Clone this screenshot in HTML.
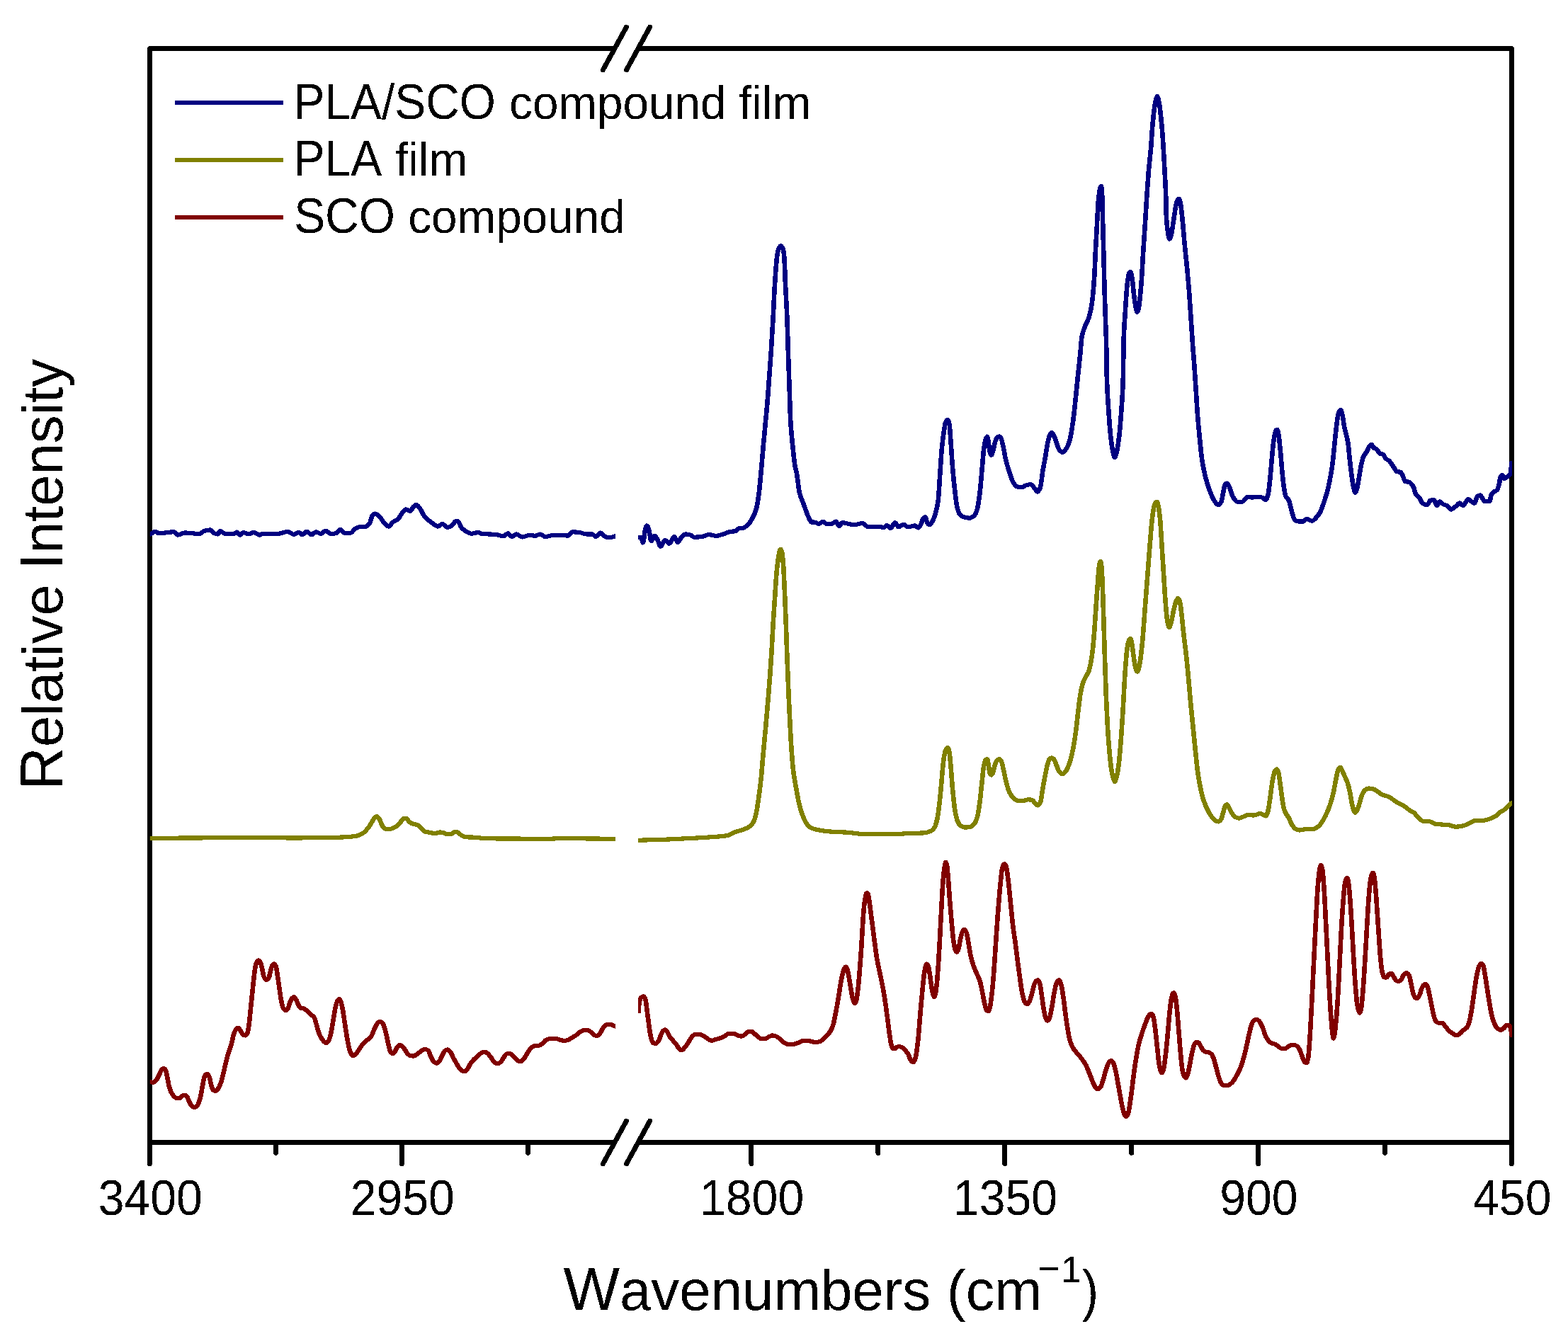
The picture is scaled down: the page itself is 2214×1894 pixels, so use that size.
<!DOCTYPE html>
<html lang="en"><head><meta charset="utf-8"><title>FTIR spectra</title>
<style>html,body{margin:0;padding:0;background:#fff;}body{width:2214px;height:1894px;overflow:hidden;}svg{display:block;}text{font-family:"Liberation Sans",Arial,Helvetica,sans-serif;fill:#000;}</style>
</head><body>
<svg width="2214" height="1894" viewBox="0 0 2214 1894" shape-rendering="crispEdges">
<rect x="0" y="0" width="2214" height="1894" fill="#fff"/>
<path d="M867.9 68.5 L211.5 68.5 L211.5 1613.5 L867.9 1613.5" stroke="#000" stroke-width="6.8" fill="none" stroke-linejoin="round"/>
<path d="M901.1 68.5 L2134.5 68.5 L2134.5 1613.5 L901.1 1613.5" stroke="#000" stroke-width="6.8" fill="none" stroke-linejoin="round"/>
<path d="M851.4 98.7 L884.4 38.3" stroke="#000" stroke-width="7" stroke-linecap="round" fill="none"/>
<path d="M884.6 98.7 L917.6 38.3" stroke="#000" stroke-width="7" stroke-linecap="round" fill="none"/>
<path d="M851.4 1643.7 L884.4 1583.3" stroke="#000" stroke-width="7" stroke-linecap="round" fill="none"/>
<path d="M884.6 1643.7 L917.6 1583.3" stroke="#000" stroke-width="7" stroke-linecap="round" fill="none"/>
<path d="M211.5 1613.5 L211.5 1643.7" stroke="#000" stroke-width="6.8" stroke-linecap="round" fill="none"/>
<path d="M567.5 1613.5 L567.5 1643.7" stroke="#000" stroke-width="6.8" stroke-linecap="round" fill="none"/>
<path d="M1060.8 1613.5 L1060.8 1643.7" stroke="#000" stroke-width="6.8" stroke-linecap="round" fill="none"/>
<path d="M1418.7 1613.5 L1418.7 1643.7" stroke="#000" stroke-width="6.8" stroke-linecap="round" fill="none"/>
<path d="M1776.6 1613.5 L1776.6 1643.7" stroke="#000" stroke-width="6.8" stroke-linecap="round" fill="none"/>
<path d="M2134.5 1613.5 L2134.5 1643.7" stroke="#000" stroke-width="6.8" stroke-linecap="round" fill="none"/>
<path d="M389.5 1613.5 L389.5 1628.5" stroke="#000" stroke-width="6.8" stroke-linecap="round" fill="none"/>
<path d="M745.6 1613.5 L745.6 1628.5" stroke="#000" stroke-width="6.8" stroke-linecap="round" fill="none"/>
<path d="M1239.8 1613.5 L1239.8 1628.5" stroke="#000" stroke-width="6.8" stroke-linecap="round" fill="none"/>
<path d="M1597.7 1613.5 L1597.7 1628.5" stroke="#000" stroke-width="6.8" stroke-linecap="round" fill="none"/>
<path d="M1955.5 1613.5 L1955.5 1628.5" stroke="#000" stroke-width="6.8" stroke-linecap="round" fill="none"/>
<defs><clipPath id="clipL"><rect x="211.8" y="0" width="657.2" height="1894"/></clipPath><clipPath id="clipR"><rect x="901" y="0" width="1234" height="1894"/></clipPath></defs>
<g clip-path="url(#clipL)"><path d="M199.12 1527.8C200.51 1528.12 201.9 1528.76 203.29 1528.76C204.8 1528.76 206.32 1526.77 207.83 1524.9C209.04 1523.41 210.25 1519.72 211.45 1517.18C212.54 1514.9 213.63 1511.43 214.72 1510.42C215.44 1509.76 216.17 1509.07 216.89 1509.07C217.8 1509.07 218.71 1510.07 219.62 1511.39C220.4 1512.53 221.19 1518.17 221.97 1522.01C222.7 1525.55 223.42 1530.67 224.15 1533.59C225.06 1537.24 225.96 1540.32 226.87 1542.28C228.08 1544.89 229.29 1546.78 230.5 1548.07C231.71 1549.36 232.91 1550.74 234.12 1550.97C235.33 1551.19 236.54 1551.35 237.75 1551.35C238.96 1551.35 240.17 1548.71 241.38 1548.07C242.59 1547.43 243.8 1546.72 245 1546.72C246.03 1546.72 247.06 1547.87 248.09 1549.03C249.18 1550.27 250.26 1554.55 251.35 1556.76C252.44 1558.96 253.53 1561.79 254.62 1562.55C255.82 1563.39 257.03 1564.09 258.24 1564.09C259.57 1564.09 260.9 1562.44 262.23 1560.62C263.32 1559.13 264.41 1555.15 265.5 1550.97C266.34 1547.71 267.19 1542.13 268.04 1537.45C268.82 1533.11 269.61 1526.76 270.39 1523.94C271.18 1521.11 271.96 1518.45 272.75 1517.76C273.48 1517.12 274.2 1516.6 274.93 1516.6C275.83 1516.6 276.74 1518.85 277.65 1521.04C278.43 1522.95 279.22 1528.8 280 1531.66C280.85 1534.74 281.7 1538.67 282.54 1539.38C283.63 1540.3 284.72 1540.93 285.81 1540.93C287.02 1540.93 288.23 1539.1 289.43 1537.45C290.76 1535.64 292.09 1531.9 293.42 1527.8C294.51 1524.45 295.6 1519.09 296.69 1514.29C297.78 1509.48 298.87 1503.39 299.95 1498.84C300.98 1494.54 302.01 1490.81 303.04 1487.26C304.25 1483.08 305.45 1480.16 306.66 1475.68C307.69 1471.86 308.72 1465.56 309.75 1462.16C310.71 1458.97 311.68 1455.79 312.65 1454.44C313.68 1453.01 314.7 1451.54 315.73 1451.54C316.76 1451.54 317.79 1453.9 318.81 1455.41C319.9 1457 320.99 1460.47 322.08 1461.2C323.17 1461.93 324.25 1462.55 325.34 1462.55C326.37 1462.55 327.4 1460.71 328.43 1458.3C329.21 1456.46 330 1449.3 330.78 1442.86C331.39 1437.9 331.99 1429.87 332.6 1423.55C333.22 1417 333.85 1410.66 334.48 1404.25C335.11 1397.79 335.74 1390.93 336.37 1384.94C337.03 1378.74 337.68 1371.07 338.34 1367.57C339.1 1363.46 339.87 1360.18 340.64 1358.88C341.4 1357.58 342.17 1356.37 342.93 1356.37C343.7 1356.37 344.46 1357.58 345.23 1358.88C346 1360.18 346.76 1364.36 347.53 1367.57C348.35 1371.01 349.18 1377.26 350 1379.15C351.09 1381.66 352.18 1383.98 353.27 1383.98C354.36 1383.98 355.45 1382.73 356.53 1381.08C357.26 1379.98 357.99 1375.18 358.71 1372.39C359.5 1369.38 360.28 1364.93 361.07 1363.71C361.85 1362.49 362.64 1361.39 363.43 1361.39C364.27 1361.39 365.12 1362.85 365.96 1364.67C366.75 1366.36 367.54 1373.89 368.32 1379.15C369.11 1384.42 369.89 1390.84 370.68 1396.53C371.41 1401.77 372.13 1408.07 372.86 1411.97C373.76 1416.84 374.67 1422.09 375.58 1423.55C376.79 1425.5 377.99 1427.03 379.2 1427.03C380.23 1427.03 381.26 1425.31 382.29 1423.55C383.07 1422.2 383.86 1417.87 384.64 1415.83C385.55 1413.48 386.46 1411 387.36 1410.04C388.27 1409.07 389.18 1408.11 390.08 1408.11C390.99 1408.11 391.9 1410.33 392.8 1411.97C393.71 1413.61 394.62 1416.85 395.52 1418.73C396.43 1420.6 397.34 1423.18 398.24 1423.55C399.76 1424.17 401.27 1424.02 402.78 1424.52C404.29 1425.01 405.8 1426.54 407.31 1427.8C409.13 1429.31 410.94 1431.43 412.75 1433.2C414.08 1434.51 415.41 1435.01 416.74 1437.07C417.71 1438.56 418.68 1443.31 419.64 1446.72C420.67 1450.34 421.7 1455.44 422.73 1458.3C424.06 1462.01 425.39 1464.83 426.72 1466.99C427.96 1468.99 429.19 1470.84 430.43 1471.81C431.18 1472.42 431.94 1473.17 432.7 1473.17C433.77 1473.17 434.84 1471.58 435.92 1469.88C436.87 1468.38 437.82 1464.34 438.77 1460.23C439.64 1456.47 440.51 1450.12 441.38 1444.79C442.19 1439.82 443 1433.88 443.81 1429.34C444.58 1425.03 445.35 1420.24 446.12 1417.76C446.93 1415.13 447.75 1412.82 448.57 1411.97C449.02 1411.5 449.48 1411 449.93 1411C450.58 1411 451.22 1412.5 451.87 1413.9C452.64 1415.57 453.41 1419.59 454.18 1423.55C454.95 1427.51 455.72 1433.68 456.49 1439C457.3 1444.6 458.11 1450.97 458.92 1456.37C459.85 1462.57 460.79 1469.04 461.72 1473.75C462.62 1478.32 463.53 1483.18 464.44 1485.33C465.65 1488.2 466.86 1491.12 468.06 1491.12C469.27 1491.12 470.48 1490.12 471.69 1489.19C473.2 1488.02 474.71 1484.75 476.23 1482.43C477.74 1480.12 479.25 1477.22 480.76 1475.29C482.57 1472.97 484.39 1471.17 486.2 1469.5C488.01 1467.82 489.83 1467.29 491.64 1465.06C493.15 1463.2 494.66 1457.8 496.17 1454.44C497.38 1451.75 498.59 1448.43 499.8 1446.72C501.01 1445 502.22 1442.86 503.43 1442.86C504.64 1442.86 505.85 1443.51 507.06 1444.4C508.14 1445.2 509.23 1449.05 510.32 1452.51C511.35 1455.78 512.37 1461.23 513.4 1466.02C514.31 1470.25 515.22 1476.1 516.12 1479.54C516.85 1482.29 517.57 1485.47 518.3 1486.29C519.27 1487.39 520.23 1488.22 521.2 1488.22C522.23 1488.22 523.26 1485.99 524.28 1484.36C525.19 1482.93 526.1 1479.61 527 1478.57C528.09 1477.32 529.18 1476.06 530.27 1476.06C531.3 1476.06 532.32 1476.87 533.35 1477.61C534.56 1478.48 535.77 1480.68 536.98 1482.43C538.19 1484.19 539.4 1486.94 540.6 1488.22C541.81 1489.51 543.02 1490.93 544.23 1491.12C545.74 1491.36 547.25 1491.51 548.77 1491.51C550.28 1491.51 551.79 1489.84 553.3 1488.8C555.11 1487.56 556.93 1485.5 558.74 1484.36C560.37 1483.34 562 1481.85 563.64 1481.85C564.97 1481.85 566.3 1482.52 567.63 1483.4C569.02 1484.31 570.41 1490.19 571.8 1493.05C573.01 1495.54 574.22 1498.81 575.42 1499.81C576.63 1500.81 577.84 1501.74 579.05 1501.74C580.26 1501.74 581.47 1500.25 582.68 1498.84C583.89 1497.44 585.1 1493.52 586.31 1491.12C587.51 1488.72 588.72 1485.36 589.93 1484.36C591.14 1483.36 592.35 1482.43 593.56 1482.43C594.77 1482.43 595.98 1483.92 597.19 1485.33C598.4 1486.73 599.6 1490.61 600.81 1493.05C602.32 1496.1 603.84 1499.01 605.35 1501.74C606.86 1504.46 608.37 1507.69 609.88 1509.46C611.09 1510.87 612.3 1512.37 613.51 1512.74C614.54 1513.06 615.56 1513.32 616.59 1513.32C617.8 1513.32 619.01 1511.08 620.22 1509.46C621.61 1507.59 623 1503.84 624.39 1501.74C625.9 1499.45 627.41 1497.54 628.92 1495.95C630.74 1494.04 632.55 1492.77 634.36 1491.12C635.87 1489.74 637.39 1487.52 638.9 1486.87C640.29 1486.28 641.68 1485.71 643.07 1485.71C644.4 1485.71 645.73 1487.11 647.06 1488.22C648.57 1489.49 650.08 1491.94 651.59 1494.02C653.1 1496.09 654.61 1499.85 656.12 1500.77C657.45 1501.58 658.78 1502.32 660.11 1502.32C661.51 1502.32 662.9 1501.04 664.29 1499.81C665.49 1498.74 666.7 1495.84 667.91 1494.02C669.12 1492.19 670.33 1489.43 671.54 1488.8C672.75 1488.17 673.96 1487.64 675.17 1487.64C676.68 1487.64 678.19 1489.03 679.7 1490.15C681.21 1491.28 682.72 1493.79 684.23 1495.37C685.44 1496.63 686.65 1498.84 687.86 1498.84C689.07 1498.84 690.28 1498.84 691.49 1498.84C692.7 1498.84 693.91 1496.55 695.12 1494.98C696.63 1493.02 698.14 1489.66 699.65 1487.26C701.16 1484.86 702.67 1481.97 704.18 1480.5C705.69 1479.03 707.21 1477.48 708.72 1477.22C710.83 1476.86 712.95 1476.99 715.06 1476.64C716.58 1476.39 718.09 1474.95 719.6 1473.75C721.11 1472.54 722.62 1469.66 724.13 1468.92C726.25 1467.89 728.36 1466.99 730.48 1466.99C732.9 1466.99 735.31 1466.99 737.73 1466.99C739.55 1466.99 741.36 1468.49 743.17 1468.92C744.99 1469.35 746.8 1469.88 748.61 1469.88C750.12 1469.88 751.64 1469.39 753.15 1468.92C754.96 1468.36 756.77 1466.76 758.59 1465.64C760.4 1464.51 762.21 1463.51 764.03 1462.16C765.84 1460.82 767.66 1458.38 769.47 1457.34C771.28 1456.29 773.1 1455.02 774.91 1455.02C776.72 1455.02 778.54 1455.17 780.35 1455.41C781.86 1455.61 783.37 1457.43 784.88 1458.69C786.09 1459.69 787.3 1461.62 788.51 1462.16C789.6 1462.65 790.69 1463.13 791.77 1463.13C792.98 1463.13 794.19 1461.6 795.4 1460.23C796.43 1459.07 797.46 1456.2 798.48 1454.44C799.51 1452.69 800.54 1450.62 801.57 1449.61C802.96 1448.25 804.35 1446.72 805.74 1446.72C807.25 1446.72 808.76 1446.89 810.27 1447.1C812.21 1447.37 814.14 1448.78 816.08 1449.61" fill="none" stroke="#800000" stroke-width="6.2" stroke-linejoin="round" stroke-linecap="square" transform="scale(1.06452 1)"/></g>
<g clip-path="url(#clipR)"><path d="M846.91 1427.41C847.27 1423.55 847.63 1417.69 847.99 1415.83C848.72 1412.12 849.44 1409.83 850.17 1409.07C851.26 1407.94 852.35 1407.14 853.43 1407.14C854.28 1407.14 855.13 1408.82 855.97 1411C856.58 1412.57 857.18 1419.03 857.79 1423.55C858.57 1429.43 859.36 1436.76 860.14 1442.86C860.93 1448.95 861.72 1455.89 862.5 1460.23C863.23 1464.24 863.95 1468.18 864.68 1469.88C865.4 1471.59 866.13 1473.19 866.85 1473.36C867.94 1473.61 869.03 1473.75 870.12 1473.75C871.33 1473.75 872.54 1471.8 873.75 1469.88C874.65 1468.45 875.56 1464.37 876.47 1462.16C877.37 1459.96 878.28 1457.34 879.19 1456.37C880.09 1455.41 881 1454.44 881.91 1454.44C882.93 1454.44 883.96 1456.01 884.99 1457.34C886.08 1458.74 887.17 1462.35 888.25 1464.09C889.76 1466.51 891.28 1467.95 892.79 1469.88C894.3 1471.81 895.81 1473.52 897.32 1475.68C898.53 1477.4 899.74 1480.43 900.95 1481.47C902.04 1482.4 903.12 1483.4 904.21 1483.4C905.54 1483.4 906.87 1481.09 908.2 1479.54C909.71 1477.77 911.22 1475.18 912.74 1472.78C914.25 1470.38 915.76 1466.77 917.27 1465.06C918.78 1463.34 920.29 1461.42 921.8 1461.2C922.68 1461.07 923.55 1460.97 924.42 1460.97C926.33 1460.97 928.24 1461.23 930.14 1461.58C932.05 1461.92 933.96 1463.77 935.87 1465.03C937.46 1466.08 939.05 1467.79 940.64 1468.48C941.91 1469.04 943.18 1469.7 944.45 1469.7C946.04 1469.7 947.63 1468.59 949.22 1468.07C951.45 1467.36 953.67 1466.91 955.9 1466.04C957.81 1465.3 959.72 1464.11 961.62 1463C963.21 1462.07 964.8 1459.95 966.39 1459.95C968.62 1459.95 970.84 1459.95 973.07 1459.95C974.98 1459.95 976.89 1461.78 978.79 1462.39C980.38 1462.89 981.97 1463.61 983.56 1463.61C985.15 1463.61 986.74 1462.07 988.33 1460.97C989.8 1459.95 991.26 1456.9 992.72 1456.9C994.12 1456.9 995.52 1456.9 996.92 1456.9C998.19 1456.9 999.46 1458.86 1000.73 1459.95C1002.32 1461.32 1003.91 1463.16 1005.5 1464.42C1006.77 1465.43 1008.05 1467.06 1009.32 1467.06C1011.23 1467.06 1013.13 1467.06 1015.04 1467.06C1016.63 1467.06 1018.22 1465.18 1019.81 1464.42C1021.4 1463.65 1022.99 1462.39 1024.58 1462.39C1026.17 1462.39 1027.76 1463.01 1029.35 1463.61C1030.94 1464.21 1032.53 1465.74 1034.12 1467.06C1035.71 1468.38 1037.3 1470.55 1038.89 1471.73C1040.48 1472.91 1042.07 1474.31 1043.66 1474.57C1045.88 1474.94 1048.11 1475.18 1050.34 1475.18C1052.88 1475.18 1055.42 1474.01 1057.97 1473.15C1060.19 1472.4 1062.42 1470.34 1064.64 1470.11C1066.87 1469.87 1069.1 1469.7 1071.32 1469.7C1073.23 1469.7 1075.14 1470.68 1077.04 1471.12C1078.63 1471.48 1080.22 1472.14 1081.81 1472.14C1084.04 1472.14 1086.27 1471.4 1088.49 1470.51C1090.08 1469.88 1091.67 1467.63 1093.26 1466.04C1094.85 1464.46 1096.44 1462.85 1098.03 1460.97C1099.3 1459.46 1100.57 1458.16 1101.85 1455.89C1102.99 1453.85 1104.14 1450.76 1105.28 1446.75C1106.17 1443.63 1107.06 1438.28 1107.95 1433.55C1108.78 1429.16 1109.6 1424.29 1110.43 1419.33C1111.29 1414.17 1112.15 1408.72 1113.02 1403.09C1113.81 1397.89 1114.61 1391.45 1115.4 1386.84C1116.21 1382.17 1117.01 1377.98 1117.82 1374.65C1118.49 1371.88 1119.16 1368.59 1119.83 1367.55C1120.51 1366.49 1121.2 1365.52 1121.88 1365.52C1122.57 1365.52 1123.26 1367.62 1123.96 1369.58C1124.68 1371.61 1125.4 1376.62 1126.12 1380.75C1126.96 1385.54 1127.79 1391.87 1128.63 1396.99C1129.33 1401.26 1130.02 1406.48 1130.72 1409.18C1131.55 1412.39 1132.38 1415.19 1133.2 1416.29C1133.56 1416.76 1133.92 1417.3 1134.28 1417.3C1134.78 1417.3 1135.28 1415.15 1135.79 1413.24C1136.62 1410.08 1137.45 1402.6 1138.28 1394.96C1138.96 1388.76 1139.63 1379.45 1140.31 1370.59C1140.97 1361.96 1141.63 1352.71 1142.29 1342.16C1142.82 1333.68 1143.35 1322.72 1143.87 1313.73C1144.42 1304.48 1144.96 1293.59 1145.51 1287.33C1146.2 1279.33 1146.9 1273.15 1147.6 1269.05C1148.12 1265.98 1148.64 1262.36 1149.16 1261.94C1149.6 1261.58 1150.05 1261.33 1150.49 1261.33C1151 1261.33 1151.51 1263.86 1152.01 1266C1152.71 1268.95 1153.4 1275.9 1154.1 1281.23C1155.1 1288.89 1156.09 1297.41 1157.09 1305.61C1158.07 1313.66 1159.05 1322.09 1160.03 1329.98C1160.99 1337.64 1161.94 1346.24 1162.89 1352.32C1164.04 1359.6 1165.18 1364.69 1166.33 1370.59C1167.41 1376.17 1168.49 1381.08 1169.57 1386.84C1170.53 1391.92 1171.48 1397.07 1172.43 1403.09C1173.39 1409.1 1174.34 1416.13 1175.3 1423.4C1176.12 1429.69 1176.95 1437.02 1177.78 1443.7C1178.54 1449.87 1179.3 1456.65 1180.06 1461.98C1180.83 1467.31 1181.59 1473.83 1182.35 1476.2C1183.18 1478.76 1184.01 1481.28 1184.83 1481.28C1185.66 1481.28 1186.49 1481.28 1187.31 1481.28C1188.2 1481.28 1189.1 1478.83 1189.99 1478.64C1191.13 1478.39 1192.27 1478.23 1193.42 1478.23C1194.69 1478.23 1195.96 1479.08 1197.24 1479.85C1198.51 1480.63 1199.78 1482.42 1201.05 1483.92C1202.2 1485.26 1203.34 1486.35 1204.48 1488.38C1205.37 1489.96 1206.27 1493.69 1207.16 1495.49C1207.98 1497.16 1208.81 1499.12 1209.64 1499.55C1210.27 1499.88 1210.91 1500.16 1211.54 1500.16C1212.37 1500.16 1213.2 1497.9 1214.02 1495.49C1214.66 1493.64 1215.3 1488.73 1215.93 1484.32C1216.57 1479.91 1217.2 1474.57 1217.84 1468.07C1218.48 1461.58 1219.11 1451.73 1219.75 1443.7C1220.4 1435.48 1221.05 1427.06 1221.7 1419.33C1222.36 1411.52 1223.02 1403.95 1223.68 1396.99C1224.36 1389.77 1225.04 1381.74 1225.73 1376.69C1226.42 1371.59 1227.1 1366.54 1227.79 1364.5C1228.29 1363.03 1228.79 1361.45 1229.29 1361.45C1229.94 1361.45 1230.59 1362.91 1231.24 1364.5C1231.95 1366.22 1232.65 1372.08 1233.36 1376.69C1234.08 1381.37 1234.8 1388.46 1235.51 1392.93C1236.21 1397.3 1236.91 1401.73 1237.61 1404.1C1238.14 1405.9 1238.68 1408.16 1239.21 1408.16C1239.71 1408.16 1240.21 1406.09 1240.71 1404.1C1241.42 1401.33 1242.12 1394.09 1242.82 1386.84C1243.5 1379.81 1244.18 1369.26 1244.87 1358.41C1245.52 1347.97 1246.18 1334.72 1246.83 1321.85C1247.48 1309.07 1248.13 1293.8 1248.78 1281.23C1249.46 1268.16 1250.14 1253.19 1250.81 1244.68C1251.52 1235.84 1252.22 1228.4 1252.92 1224.37C1253.44 1221.41 1253.95 1217.87 1254.47 1217.87C1254.97 1217.87 1255.48 1220.04 1255.98 1222.34C1256.56 1224.97 1257.14 1233.52 1257.71 1240.62C1258.39 1249 1259.07 1261.75 1259.75 1271.08C1260.56 1282.11 1261.36 1292.22 1262.17 1301.54C1262.99 1311.07 1263.81 1322.07 1264.63 1327.94C1265.52 1334.3 1266.41 1340.48 1267.3 1342.16C1267.98 1343.45 1268.66 1344.6 1269.35 1344.6C1270.03 1344.6 1270.72 1342.23 1271.4 1340.13C1272.26 1337.49 1273.12 1329.77 1273.98 1325.91C1274.88 1321.89 1275.78 1317.36 1276.68 1315.76C1277.54 1314.22 1278.41 1312.71 1279.27 1312.71C1280.09 1312.71 1280.91 1314.75 1281.73 1316.77C1282.61 1318.95 1283.49 1324.99 1284.38 1329.98C1285.31 1335.24 1286.24 1343.58 1287.17 1348.25C1288.35 1354.19 1289.53 1358.68 1290.72 1362.47C1291.99 1366.55 1293.26 1369.28 1294.53 1372.62C1296.41 1377.57 1298.3 1380.6 1300.18 1387.23C1301.22 1390.92 1302.27 1397.55 1303.32 1403.02C1304.28 1408.09 1305.25 1414.71 1306.22 1418.81C1306.97 1421.98 1307.71 1425.85 1308.46 1426.71C1309.23 1427.59 1310 1428.29 1310.77 1428.29C1311.49 1428.29 1312.21 1425.79 1312.93 1423.33C1313.85 1420.17 1314.77 1411.38 1315.69 1403.02C1316.58 1394.94 1317.47 1383.54 1318.35 1371.44C1319.11 1361.12 1319.87 1347.19 1320.63 1335.35C1321.52 1321.43 1322.41 1306.95 1323.3 1294.29C1323.73 1288.16 1324.16 1282.66 1324.6 1276.92C1325.04 1271.08 1325.48 1264.84 1325.92 1259.55C1326.44 1253.23 1326.97 1247.49 1327.5 1242.18C1327.97 1237.47 1328.43 1231.66 1328.9 1229.1C1329.5 1225.83 1330.1 1223.51 1330.7 1222.33C1331.23 1221.29 1331.75 1220.19 1332.28 1220.19C1333.03 1220.19 1333.78 1221.83 1334.52 1223.69C1335.52 1226.16 1336.52 1236.72 1337.51 1245.12C1338.47 1253.19 1339.43 1264.55 1340.39 1274.44C1341.39 1284.84 1342.4 1297.05 1343.41 1306.02C1344.68 1317.36 1345.95 1325.06 1347.22 1335.35C1348.28 1343.92 1349.34 1353.78 1350.4 1362.42C1351.36 1370.24 1352.32 1378.02 1353.28 1384.98C1354.17 1391.43 1355.06 1398.71 1355.95 1403.02C1357.07 1408.42 1358.18 1413.79 1359.29 1415.43C1360.36 1416.99 1361.42 1418.36 1362.48 1418.36C1363.48 1418.36 1364.47 1416.22 1365.47 1414.3C1366.58 1412.17 1367.69 1407.17 1368.8 1403.02C1369.8 1399.3 1370.8 1393.2 1371.8 1390.62C1372.8 1388.03 1373.8 1385.61 1374.8 1384.98C1375.36 1384.63 1375.91 1384.3 1376.47 1384.3C1377.32 1384.3 1378.18 1386.19 1379.03 1388.36C1379.83 1390.38 1380.63 1397.57 1381.43 1403.02C1382.21 1408.35 1382.99 1416.19 1383.77 1421.07C1384.78 1427.42 1385.8 1434.19 1386.81 1436.86C1387.74 1439.31 1388.67 1441.82 1389.6 1441.82C1390.53 1441.82 1391.47 1439.31 1392.4 1436.86C1393.41 1434.19 1394.43 1426.95 1395.44 1421.07C1396.36 1415.73 1397.28 1408.14 1398.2 1403.02C1399.14 1397.83 1400.07 1392.14 1401 1389.49C1401.74 1387.41 1402.47 1385.46 1403.2 1384.98C1403.75 1384.61 1404.31 1384.3 1404.86 1384.3C1405.65 1384.3 1406.44 1387.02 1407.23 1389.49C1408.36 1393.01 1409.49 1401.78 1410.63 1409.79C1411.51 1416.04 1412.39 1425.46 1413.27 1432.35C1414.21 1439.7 1415.15 1446.65 1416.09 1452.65C1417.01 1458.51 1417.93 1464.92 1418.85 1468.44C1420.05 1473.05 1421.25 1476.2 1422.45 1478.59C1424.22 1482.1 1425.98 1484.09 1427.75 1486.49C1429.87 1489.37 1431.99 1491.42 1434.1 1494.38C1436.22 1497.34 1438.34 1500.34 1440.46 1504.53C1442.23 1508.03 1443.99 1513.46 1445.76 1518.07C1447.17 1521.75 1448.59 1526.02 1450 1529.35C1451.06 1531.84 1452.12 1534.99 1453.18 1536.12C1454.24 1537.24 1455.3 1538.37 1456.36 1538.37C1457.56 1538.37 1458.76 1536.71 1459.96 1534.99C1461.09 1533.36 1462.22 1528.64 1463.35 1524.84C1464.43 1521.21 1465.5 1516.15 1466.58 1512.43C1467.54 1509.13 1468.49 1505.43 1469.45 1503.41C1470.39 1501.41 1471.34 1499.39 1472.28 1498.89C1472.98 1498.53 1473.67 1498.22 1474.37 1498.22C1475.29 1498.22 1476.22 1500.32 1477.15 1502.28C1478.11 1504.32 1479.08 1509.06 1480.05 1513.56C1481.08 1518.36 1482.11 1525.53 1483.14 1531.6C1484.16 1537.56 1485.17 1543.89 1486.18 1549.65C1487.14 1555.14 1488.11 1561.43 1489.07 1565.44C1489.96 1569.15 1490.85 1572.84 1491.74 1574.46C1492.45 1575.75 1493.16 1577.17 1493.86 1577.17C1494.65 1577.17 1495.43 1575.31 1496.22 1573.34C1496.97 1571.43 1497.73 1565.76 1498.49 1560.93C1499.46 1554.78 1500.43 1546.25 1501.39 1538.37C1502.27 1531.2 1503.15 1522.66 1504.03 1515.81C1505.09 1507.58 1506.15 1499.94 1507.21 1493.26C1508.27 1486.57 1509.33 1480.02 1510.39 1475.21C1511.8 1468.79 1513.22 1464.12 1514.63 1459.42C1516.13 1454.42 1517.63 1450.04 1519.14 1445.88C1520.45 1442.24 1521.77 1437.96 1523.09 1435.73C1523.95 1434.27 1524.82 1432.66 1525.69 1432.35C1526.38 1432.1 1527.07 1431.9 1527.77 1431.9C1528.56 1431.9 1529.36 1434.98 1530.16 1437.99C1530.94 1440.94 1531.72 1448.4 1532.5 1454.91C1533.26 1461.28 1534.02 1469.98 1534.79 1477.46C1535.56 1485.02 1536.33 1494.68 1537.1 1500.02C1537.88 1505.36 1538.65 1510.47 1539.42 1512.43C1539.98 1513.87 1540.55 1515.36 1541.12 1515.36C1541.92 1515.36 1542.71 1512.11 1543.51 1509.05C1544.42 1505.52 1545.34 1496.8 1546.25 1488.74C1547.16 1480.82 1548.06 1469.68 1548.96 1459.42C1549.71 1450.82 1550.47 1440.02 1551.22 1432.35C1551.99 1424.56 1552.75 1416.26 1553.52 1412.05C1554.27 1407.91 1555.02 1403.7 1555.77 1403.02C1556.19 1402.65 1556.6 1402.35 1557.01 1402.35C1557.74 1402.35 1558.46 1405.48 1559.19 1408.66C1559.97 1412.07 1560.74 1421.73 1561.52 1430.09C1562.27 1438.22 1563.03 1449.58 1563.78 1459.42C1564.53 1469.13 1565.27 1480.4 1566.02 1488.74C1566.79 1497.37 1567.56 1507.17 1568.33 1511.3C1569.15 1515.69 1569.97 1518.99 1570.79 1520.32C1571.5 1521.47 1572.2 1522.58 1572.91 1522.58C1573.69 1522.58 1574.48 1520.22 1575.27 1518.07C1576.17 1515.6 1577.07 1509.24 1577.97 1504.53C1579.07 1498.8 1580.17 1491.5 1581.27 1486.49C1582.23 1482.13 1583.18 1477.09 1584.14 1475.21C1584.98 1473.54 1585.83 1471.82 1586.68 1471.82C1587.39 1471.82 1588.09 1471.82 1588.8 1471.82C1589.86 1471.82 1590.92 1474.63 1591.98 1476.34C1593.18 1478.27 1594.38 1481.79 1595.58 1483.1C1596.85 1484.5 1598.12 1485.8 1599.39 1486.04C1600.81 1486.3 1602.22 1486.22 1603.63 1486.49C1604.69 1486.69 1605.75 1487.62 1606.81 1488.74C1607.87 1489.87 1608.93 1492.59 1609.99 1495.51C1611.05 1498.43 1612.11 1503.78 1613.17 1507.92C1614.23 1512.05 1615.29 1516.84 1616.35 1520.32C1617.41 1523.81 1618.47 1527.79 1619.53 1529.35C1620.94 1531.42 1622.35 1533.41 1623.76 1533.41C1625.53 1533.41 1627.3 1533.12 1629.06 1532.73C1630.83 1532.35 1632.59 1530.66 1634.36 1528.9C1636.12 1527.13 1637.89 1523.57 1639.66 1520.32C1641.42 1517.08 1643.19 1513.6 1644.95 1509.05C1646.58 1504.86 1648.2 1499.35 1649.83 1493.26C1651.03 1488.75 1652.23 1483.06 1653.43 1477.46C1654.49 1472.52 1655.55 1466.53 1656.61 1461.67C1657.67 1456.82 1658.73 1451.15 1659.79 1448.14C1660.85 1445.13 1661.91 1442.21 1662.97 1441.37C1664.24 1440.37 1665.51 1439.57 1666.78 1439.57C1667.98 1439.57 1669.18 1441.13 1670.38 1442.5C1672.02 1444.37 1673.66 1448.48 1675.3 1452.65C1676.36 1455.35 1677.42 1460.36 1678.48 1462.8C1679.75 1465.73 1681.02 1468.04 1682.29 1469.57C1683.71 1471.27 1685.12 1472.78 1686.53 1473.4C1688.09 1474.09 1689.64 1474.1 1691.19 1474.76C1692.61 1475.35 1694.02 1476.9 1695.43 1477.92C1696.84 1478.93 1698.26 1480.85 1699.67 1480.85C1701.44 1480.85 1703.2 1480.85 1704.97 1480.85C1706.73 1480.85 1708.5 1477.68 1710.26 1477.01C1712.03 1476.35 1713.8 1475.66 1715.56 1475.66C1717.19 1475.66 1718.81 1476.46 1720.44 1477.46C1721.64 1478.21 1722.84 1480.67 1724.04 1483.1C1725.1 1485.26 1726.16 1489.32 1727.22 1492.13C1728.28 1494.93 1729.34 1499.29 1730.4 1500.02C1731.31 1500.66 1732.23 1501.15 1733.15 1501.15C1733.86 1501.15 1734.56 1497.33 1735.27 1493.26C1735.98 1489.18 1736.68 1477.01 1737.39 1466.19C1738.1 1455.36 1738.8 1439.83 1739.51 1425.58C1740.21 1411.33 1740.92 1395.49 1741.63 1380.46C1742.34 1365.41 1743.04 1350.32 1743.75 1335.35C1744.47 1320.24 1745.18 1304.15 1745.9 1290.23C1746.64 1275.67 1747.39 1259.04 1748.14 1249.63C1748.92 1239.78 1749.7 1230.54 1750.49 1227.07C1751.06 1224.5 1751.64 1221.88 1752.22 1221.88C1752.81 1221.88 1753.39 1225.05 1753.98 1228.2C1754.77 1232.45 1755.55 1244.51 1756.34 1256.4C1757.08 1267.54 1757.82 1286.2 1758.56 1301.51C1759.27 1316.28 1759.99 1331.6 1760.7 1346.63C1761.41 1361.68 1762.13 1378.13 1762.84 1391.74C1763.58 1405.75 1764.31 1419.42 1765.05 1430.09C1765.83 1441.52 1766.62 1453.72 1767.41 1459.42C1767.86 1462.66 1768.3 1466.64 1768.75 1466.64C1769.27 1466.64 1769.79 1462.6 1770.31 1459.42C1771.08 1454.66 1771.86 1446.06 1772.64 1436.86C1773.38 1428.07 1774.12 1416.11 1774.86 1403.02C1775.58 1390.37 1776.29 1372.94 1777.01 1357.91C1777.73 1342.87 1778.44 1325.99 1779.16 1312.79C1779.89 1299.28 1780.63 1286.69 1781.36 1276.7C1782.14 1266.12 1782.92 1254.25 1783.69 1249.63C1784.44 1245.17 1785.19 1241.38 1785.94 1240.6C1786.28 1240.25 1786.63 1239.93 1786.98 1239.93C1787.57 1239.93 1788.16 1243.81 1788.75 1247.37C1789.53 1252.09 1790.31 1263.58 1791.1 1274.44C1791.83 1284.67 1792.57 1299.49 1793.31 1312.79C1794.03 1325.78 1794.75 1340.76 1795.47 1353.39C1796.2 1366.23 1796.93 1379.43 1797.66 1389.49C1798.43 1400.02 1799.19 1411.21 1799.96 1416.56C1800.72 1421.84 1801.47 1425.66 1802.23 1427.84C1802.66 1429.05 1803.08 1430.54 1803.5 1430.54C1804.08 1430.54 1804.66 1428.06 1805.24 1425.58C1806.02 1422.22 1806.8 1412.24 1807.59 1403.02C1808.33 1394.25 1809.08 1381.37 1809.82 1369.19C1810.54 1357.41 1811.26 1343.97 1811.98 1330.84C1812.7 1317.67 1813.43 1302.28 1814.15 1290.23C1814.9 1277.69 1815.65 1264.12 1816.4 1256.4C1817.17 1248.47 1817.94 1241.34 1818.71 1238.35C1819.44 1235.54 1820.16 1232.71 1820.88 1232.71C1821.53 1232.71 1822.19 1235.42 1822.84 1238.35C1823.55 1241.54 1824.26 1252.07 1824.97 1260.91C1825.71 1270.17 1826.46 1283.25 1827.2 1294.74C1827.92 1305.81 1828.63 1318.06 1829.35 1328.58C1830.06 1339.01 1830.77 1351.04 1831.48 1357.91C1832.18 1364.74 1832.89 1371.03 1833.6 1373.7C1834.51 1377.17 1835.43 1380.46 1836.35 1380.46C1837.41 1380.46 1838.47 1380.46 1839.53 1380.46C1840.38 1380.46 1841.22 1376.44 1842.07 1375.95C1843.2 1375.3 1844.33 1374.83 1845.46 1374.83C1846.45 1374.83 1847.44 1377.77 1848.43 1379.34C1849.56 1381.13 1850.69 1384.38 1851.82 1384.98C1853.02 1385.61 1854.22 1386.1 1855.42 1386.1C1856.62 1386.1 1857.82 1384.26 1859.03 1382.72C1860.16 1381.27 1861.29 1376.99 1862.42 1375.95C1863.4 1375.04 1864.39 1374.15 1865.38 1374.15C1866.51 1374.15 1867.64 1375.44 1868.77 1377.08C1869.76 1378.52 1870.75 1385.02 1871.74 1389.49C1872.66 1393.64 1873.58 1400.15 1874.49 1403.02C1875.41 1405.89 1876.33 1409.07 1877.25 1409.34C1878.24 1409.62 1879.23 1409.79 1880.22 1409.79C1881.13 1409.79 1882.05 1407.28 1882.97 1405.28C1883.89 1403.27 1884.81 1398.49 1885.73 1396.26C1886.57 1394.19 1887.42 1392 1888.27 1391.29C1889.12 1390.58 1889.96 1389.94 1890.81 1389.94C1891.73 1389.94 1892.65 1391.96 1893.57 1394C1894.48 1396.04 1895.4 1401.93 1896.32 1406.41C1897.31 1411.23 1898.3 1417.15 1899.29 1422.2C1900.21 1426.89 1901.12 1432.72 1902.04 1435.73C1902.96 1438.74 1903.88 1441.56 1904.8 1442.5C1906 1443.73 1907.2 1444.76 1908.4 1444.76C1909.81 1444.76 1911.23 1444.76 1912.64 1444.76C1914.05 1444.76 1915.46 1447.6 1916.88 1449.27C1918.29 1450.94 1919.7 1453.43 1921.11 1454.91C1922.88 1456.76 1924.65 1458.31 1926.41 1459.42C1928.39 1460.66 1930.37 1462.35 1932.35 1462.35C1933.9 1462.35 1935.45 1460.65 1937.01 1459.42C1938.42 1458.3 1939.83 1456.2 1941.25 1454.91C1942.66 1453.62 1944.07 1453.27 1945.48 1451.52C1946.54 1450.21 1947.6 1447.15 1948.66 1443.63C1949.58 1440.57 1950.5 1435.44 1951.42 1430.09C1952.27 1425.16 1953.11 1418.26 1953.96 1412.05C1954.85 1405.5 1955.75 1397.86 1956.64 1391.74C1957.6 1385.13 1958.57 1378.03 1959.54 1373.7C1960.5 1369.37 1961.47 1365.2 1962.43 1363.55C1963.28 1362.09 1964.13 1360.61 1964.98 1360.61C1965.84 1360.61 1966.69 1362.56 1967.55 1364.67C1968.46 1366.92 1969.37 1374.77 1970.28 1380.46C1971.16 1385.99 1972.05 1392.49 1972.93 1398.51C1973.81 1404.52 1974.69 1411.06 1975.58 1416.56C1976.49 1422.28 1977.41 1428.3 1978.33 1432.35C1979.39 1437.02 1980.45 1440.86 1981.51 1443.63C1982.92 1447.32 1984.33 1451.02 1985.75 1452.2C1987.51 1453.67 1989.28 1454.91 1991.04 1454.91C1992.46 1454.91 1993.87 1452.89 1995.28 1451.52C1996.34 1450.49 1997.4 1447.69 1998.46 1447.69C1999.52 1447.69 2000.58 1447.84 2001.64 1448.14C2002.35 1448.34 2003.05 1450.36 2003.76 1452.65C2004.25 1454.26 2004.75 1458.67 2005.24 1461.67" fill="none" stroke="#800000" stroke-width="6.2" stroke-linejoin="round" stroke-linecap="square" transform="scale(1.06452 1)"/></g>
<g clip-path="url(#clipL)"><path d="M200.35 1183.93C218.86 1183.77 237.37 1183.54 255.89 1183.45C278.55 1183.33 301.22 1183.2 323.89 1183.2C346.56 1183.2 369.23 1183.45 391.9 1183.45C403.23 1183.45 414.57 1183.33 425.9 1183.2C433.46 1183.12 441.01 1182.97 448.57 1182.72C456.13 1182.47 463.68 1182.08 471.24 1181.03C474.64 1180.56 478.04 1178.82 481.44 1176.69C483.71 1175.27 485.97 1172.44 488.24 1169.45C490.13 1166.96 492.02 1162.94 493.91 1159.8C495.04 1157.91 496.17 1154.86 497.31 1154.25C498.29 1153.72 499.27 1153.28 500.25 1153.28C501.31 1153.28 502.37 1155.64 503.43 1157.38C504.79 1159.63 506.15 1165.06 507.51 1167.04C508.64 1168.68 509.78 1170.33 510.91 1170.66C512.42 1171.09 513.93 1171.38 515.44 1171.38C518.84 1171.38 522.24 1169.19 525.64 1167.04C527.53 1165.84 529.42 1163.11 531.31 1161C532.82 1159.32 534.33 1155.69 535.84 1155.69C536.83 1155.69 537.81 1155.69 538.79 1155.69C540.08 1155.69 541.36 1159.36 542.65 1160.52C543.78 1161.54 544.91 1162.42 546.05 1162.93C548.69 1164.12 551.33 1164.1 553.98 1165.35C555.87 1166.24 557.76 1168.92 559.65 1170.66C561.16 1172.05 562.67 1174.29 564.18 1174.76C566.45 1175.46 568.71 1175.49 570.98 1175.97C572.87 1176.36 574.76 1177.41 576.65 1177.41C578.92 1177.41 581.18 1175.48 583.45 1175.48C584.96 1175.48 586.47 1175.71 587.98 1175.97C589.49 1176.22 591.01 1177.9 592.52 1177.9C594.41 1177.9 596.29 1177.9 598.18 1177.9C600.07 1177.9 601.96 1174.76 603.85 1174.76C604.83 1174.76 605.82 1175.13 606.8 1175.48C608.46 1176.08 610.12 1178.59 611.78 1179.58C613.67 1180.72 615.56 1182.09 617.45 1182.24C621.61 1182.57 625.76 1182.48 629.92 1182.72C633.7 1182.94 637.48 1183.75 641.25 1183.93C646.69 1184.19 652.14 1184.35 657.58 1184.41C680.35 1184.68 703.13 1184.83 725.91 1184.83C733.5 1184.83 741.1 1183.86 748.69 1183.86C756.28 1183.86 763.88 1184.23 771.47 1184.35C786.43 1184.57 801.39 1184.67 816.34 1184.83" fill="none" stroke="#808000" stroke-width="6.2" stroke-linejoin="round" stroke-linecap="square" transform="scale(1.06452 1)"/></g>
<g clip-path="url(#clipR)"><path d="M846.64 1186.77C851.95 1186.61 857.27 1186.45 862.58 1186.29C870.18 1186.05 877.77 1185.86 885.36 1185.56C892.96 1185.25 900.55 1184.75 908.14 1184.35C915.73 1183.94 923.33 1183.6 930.92 1183.13C938.51 1182.66 946.11 1182.17 953.7 1181.44C957.5 1181.07 961.29 1180.75 965.09 1179.98C968.51 1179.29 971.92 1176.46 975.34 1175.13C978.76 1173.8 982.17 1173.09 985.59 1171.74C988.25 1170.68 990.9 1169.72 993.56 1167.86C995.46 1166.53 997.36 1164.65 999.26 1161.31C1000.4 1159.31 1001.53 1155.25 1002.67 1150.4C1003.81 1145.55 1004.95 1136.89 1006.09 1128.57C1007.23 1120.26 1008.37 1110.98 1009.51 1099.48C1010.49 1089.5 1011.48 1074.78 1012.47 1063.1C1013.53 1050.52 1014.59 1039.31 1015.66 1026.73C1016.64 1015.05 1017.63 1002.97 1018.62 990.36C1019.53 978.71 1020.44 967.25 1021.35 953.99C1022.11 942.93 1022.87 931.14 1023.63 917.61C1024.24 906.79 1024.84 891.99 1025.45 881.24C1026.22 867.63 1026.99 856.82 1027.76 844.87C1028.55 832.57 1029.34 817.42 1030.13 808.5C1030.95 799.28 1031.77 791.8 1032.59 786.67C1033.25 782.55 1033.91 778.06 1034.56 776.97C1034.94 776.35 1035.32 775.76 1035.7 775.76C1036.17 775.76 1036.65 777.53 1037.12 779.4C1037.72 781.76 1038.31 788.59 1038.91 796.37C1039.5 803.97 1040.08 819.27 1040.67 832.74C1041.29 847.07 1041.91 863.81 1042.53 881.24C1043.06 896.21 1043.6 914.6 1044.13 929.74C1044.74 946.98 1045.34 963.33 1045.95 978.23C1046.48 991.27 1047.02 1003.27 1047.55 1014.61C1048.15 1027.56 1048.76 1041.15 1049.37 1050.98C1050.28 1065.73 1051.19 1079.14 1052.1 1087.35C1053.32 1098.3 1054.53 1104.18 1055.75 1111.6C1057.04 1119.48 1058.33 1127.6 1059.62 1133.42C1061.14 1140.27 1062.66 1145.97 1064.18 1150.4C1065.69 1154.83 1067.21 1158.75 1068.73 1161.31C1070.63 1164.51 1072.53 1167.4 1074.43 1168.58C1076.39 1169.81 1078.34 1170.43 1080.3 1171C1084.1 1172.1 1087.9 1172.89 1091.69 1173.42C1095.49 1173.96 1099.29 1174.36 1103.08 1174.64C1110.67 1175.2 1118.27 1175.27 1125.86 1175.85C1131.18 1176.25 1136.49 1177.55 1141.81 1177.79C1147.88 1178.06 1153.95 1178.27 1160.03 1178.27C1167.62 1178.27 1175.21 1178.27 1182.81 1178.27C1190.4 1178.27 1197.99 1177.38 1205.59 1177.06C1212.42 1176.77 1219.25 1176.82 1226.09 1176.33C1229.12 1176.12 1232.16 1175.01 1235.2 1173.42C1236.72 1172.63 1238.24 1171.13 1239.75 1168.57C1240.89 1166.66 1242.03 1161.95 1243.17 1156.45C1244.16 1151.68 1245.14 1143.43 1246.13 1134.63C1247.07 1126.29 1248 1113.41 1248.94 1103.1C1249.91 1092.4 1250.88 1078.13 1251.85 1071.58C1252.66 1066.11 1253.47 1061.26 1254.28 1059.46C1255.13 1057.56 1255.99 1055.82 1256.84 1055.82C1257.54 1055.82 1258.25 1058.05 1258.96 1060.67C1259.72 1063.49 1260.48 1075.01 1261.24 1083.71C1262.04 1092.8 1262.83 1106.28 1263.63 1115.23C1264.63 1126.48 1265.63 1138.09 1266.63 1144.33C1267.7 1150.94 1268.76 1156.11 1269.82 1158.87C1271.19 1162.43 1272.56 1165.18 1273.92 1166.15C1275.82 1167.5 1277.72 1168.57 1279.62 1168.57C1281.89 1168.57 1284.17 1168.39 1286.45 1168.09C1288.35 1167.84 1290.25 1165.98 1292.15 1163.72C1293.51 1162.1 1294.88 1158.77 1296.25 1154.03C1297.31 1150.34 1298.37 1142.64 1299.43 1134.63C1300.42 1127.19 1301.41 1115.1 1302.4 1105.53C1303.15 1098.17 1303.91 1088.18 1304.67 1083.71C1305.43 1079.23 1306.19 1075.08 1306.95 1074.01C1307.71 1072.93 1308.47 1072.07 1309.23 1072.07C1309.84 1072.07 1310.44 1075.79 1311.05 1078.86C1311.58 1081.53 1312.11 1089.52 1312.65 1090.98C1313.41 1093.06 1314.16 1094.62 1314.92 1094.62C1315.68 1094.62 1316.44 1092.74 1317.2 1090.98C1317.96 1089.22 1318.72 1083.78 1319.48 1081.28C1320.39 1078.27 1321.3 1074.97 1322.21 1074.01C1323.2 1072.96 1324.19 1072.07 1325.17 1072.07C1326.16 1072.07 1327.15 1073.55 1328.14 1075.22C1329.05 1076.76 1329.96 1082.11 1330.87 1086.13C1332.01 1091.15 1333.15 1098.42 1334.29 1103.1C1335.8 1109.35 1337.32 1115.65 1338.84 1118.87C1340.74 1122.88 1342.64 1125.65 1344.54 1127.35C1346.43 1129.05 1348.33 1130.99 1350.23 1130.99C1352.51 1130.99 1354.79 1130.99 1357.06 1130.99C1359.34 1130.99 1361.62 1129.29 1363.9 1129.29C1365.8 1129.29 1367.69 1129.65 1369.59 1130.26C1370.73 1130.63 1371.87 1133.46 1373.01 1134.63C1374.15 1135.79 1375.29 1137.54 1376.43 1137.54C1377.57 1137.54 1378.7 1135.7 1379.84 1133.41C1380.98 1131.12 1382.12 1119.47 1383.26 1112.8C1384.4 1106.14 1385.54 1099.39 1386.68 1093.4C1387.66 1088.21 1388.65 1082.25 1389.64 1078.86C1390.55 1075.72 1391.46 1072.27 1392.37 1071.58C1393.28 1070.89 1394.19 1070.37 1395.1 1070.37C1396.09 1070.37 1397.08 1071.59 1398.07 1072.79C1399.2 1074.18 1400.34 1078.45 1401.48 1081.28C1402.62 1084.11 1403.76 1088.36 1404.9 1089.77C1406.42 1091.65 1407.94 1093.4 1409.46 1093.4C1411.23 1093.4 1413.01 1090.22 1414.79 1087.37C1416.3 1084.93 1417.82 1080.31 1419.34 1075.25C1420.63 1070.94 1421.92 1065.11 1423.21 1058.27C1424.43 1051.84 1425.64 1043.41 1426.86 1034.03C1427.92 1025.82 1428.98 1014.1 1430.05 1004.93C1431.03 996.41 1432.02 986.74 1433.01 980.68C1434 974.62 1434.98 969.45 1435.97 966.13C1437.26 961.78 1438.55 959.2 1439.84 956.43C1441.13 953.66 1442.42 952.54 1443.71 949.16C1444.7 946.57 1445.69 942.23 1446.68 937.03C1447.66 931.84 1448.65 924.52 1449.64 915.21C1450.4 908.01 1451.16 896.83 1451.93 886.11C1452.7 875.27 1453.47 861.35 1454.24 849.74C1454.8 841.35 1455.36 833.28 1455.91 825.49C1456.51 817.1 1457.12 805.23 1457.72 801.24C1458.36 796.94 1459.01 792.75 1459.66 792.75C1460.16 792.75 1460.65 796.77 1461.15 801.24C1461.69 806.12 1462.23 822.97 1462.77 837.61C1463.25 850.55 1463.73 869.61 1464.2 886.11C1464.66 901.95 1465.12 919.61 1465.58 934.61C1466.11 952 1466.64 969.24 1467.18 983.1C1467.71 996.96 1468.24 1009.54 1468.77 1019.48C1469.55 1034.09 1470.34 1046.21 1471.12 1055.85C1472.16 1068.73 1473.21 1080.5 1474.25 1087.37C1475.06 1092.7 1475.87 1096.97 1476.68 1099.5C1477.31 1101.45 1477.94 1103.86 1478.57 1103.86C1479.43 1103.86 1480.3 1100.29 1481.17 1097.07C1482.14 1093.45 1483.12 1085.98 1484.1 1077.67C1485.05 1069.56 1486 1056.66 1486.95 1043.72C1487.73 1033.22 1488.5 1020.89 1489.27 1007.35C1489.89 996.54 1490.51 982.1 1491.12 970.98C1491.76 959.59 1492.39 947.8 1493.02 939.46C1493.85 928.56 1494.67 917.6 1495.5 912.78C1496.31 908.08 1497.11 904.14 1497.92 903.08C1498.4 902.45 1498.88 901.87 1499.37 901.87C1499.93 901.87 1500.5 905.26 1501.07 907.93C1501.93 912 1502.79 921.47 1503.65 927.33C1504.5 933.08 1505.34 940.23 1506.19 943.09C1506.98 945.78 1507.77 948.67 1508.56 948.67C1509.3 948.67 1510.03 945.76 1510.76 943.09C1511.75 939.52 1512.73 930.91 1513.71 922.48C1514.66 914.33 1515.61 902.98 1516.56 890.96C1517.33 881.16 1518.11 868.02 1518.88 857.01C1519.64 846.22 1520.4 836 1521.16 825.49C1521.92 814.98 1522.68 804.35 1523.44 793.97C1524.22 783.33 1524.99 772.39 1525.77 762.44C1526.57 752.22 1527.37 740.41 1528.17 733.35C1528.99 726.14 1529.8 719.66 1530.62 716.37C1531.41 713.17 1532.21 710.44 1533 709.58C1533.46 709.09 1533.92 708.61 1534.37 708.61C1535.01 708.61 1535.64 711.39 1536.27 713.95C1537.1 717.3 1537.93 724.63 1538.75 733.35C1539.56 741.82 1540.37 758.98 1541.17 772.14C1541.95 784.85 1542.72 798.12 1543.5 810.94C1544.29 823.99 1545.08 839.48 1545.87 849.74C1546.7 860.5 1547.53 871.58 1548.36 876.41C1549.16 881.11 1549.97 886.11 1550.77 886.11C1551.68 886.11 1552.6 882.02 1553.51 878.84C1554.59 875.05 1555.67 866.84 1556.76 861.86C1557.74 857.35 1558.72 852.07 1559.71 849.74C1560.68 847.44 1561.65 844.89 1562.62 844.89C1563.4 844.89 1564.18 847.2 1564.97 849.74C1565.79 852.43 1566.62 861.83 1567.45 869.14C1568.4 877.52 1569.36 889.31 1570.31 898.23C1571.24 906.95 1572.17 913.61 1573.1 922.48C1574.24 933.35 1575.38 945.84 1576.51 958.86C1577.5 970.13 1578.49 983.95 1579.48 995.23C1580.61 1008.15 1581.74 1019.33 1582.87 1031.37C1583.85 1041.83 1584.83 1052.74 1585.82 1062.74C1586.72 1071.97 1587.63 1082.23 1588.54 1089.29C1589.67 1098.1 1590.8 1105.16 1591.94 1111C1593.45 1118.8 1594.96 1125.44 1596.47 1130.31C1598.36 1136.4 1600.25 1140.93 1602.14 1144.79C1604.03 1148.65 1605.92 1151.99 1607.81 1154.44C1609.32 1156.4 1610.83 1158.55 1612.34 1159.27C1613.62 1159.88 1614.91 1160.47 1616.19 1160.47C1617.4 1160.47 1618.61 1158.79 1619.82 1156.85C1620.73 1155.4 1621.63 1150.5 1622.54 1147.2C1623.3 1144.45 1624.05 1139.86 1624.81 1138.75C1625.71 1137.43 1626.62 1136.34 1627.53 1136.34C1628.51 1136.34 1629.49 1139.35 1630.47 1141.17C1631.61 1143.26 1632.74 1146.62 1633.87 1148.41C1635.39 1150.79 1636.9 1153.15 1638.41 1153.96C1640.07 1154.85 1641.73 1155.65 1643.4 1155.65C1645.51 1155.65 1647.63 1154.08 1649.74 1153.23C1651.63 1152.47 1653.52 1150.82 1655.41 1150.82C1658.05 1150.82 1660.7 1151.54 1663.34 1151.54C1665.99 1151.54 1668.63 1149.13 1671.28 1149.13C1672.79 1149.13 1674.3 1150.13 1675.81 1150.82C1676.79 1151.27 1677.78 1152.51 1678.76 1152.51C1679.67 1152.51 1680.57 1149.87 1681.48 1147.2C1682.41 1144.45 1683.35 1136.82 1684.28 1130.31C1685.07 1124.82 1685.85 1116.46 1686.64 1111C1687.44 1105.44 1688.24 1100.09 1689.05 1096.53C1689.84 1092.98 1690.64 1089.22 1691.44 1088.08C1692.05 1087.21 1692.66 1086.39 1693.27 1086.39C1694.12 1086.39 1694.98 1088.97 1695.83 1091.7C1696.65 1094.31 1697.47 1102.49 1698.29 1108.59C1699.08 1114.49 1699.87 1122.36 1700.66 1127.9C1701.44 1133.4 1702.23 1139.57 1703.01 1142.37C1704 1145.88 1704.98 1147.72 1705.96 1149.61C1707.25 1152.09 1708.53 1153.17 1709.81 1155.65C1710.95 1157.83 1712.08 1162.1 1713.22 1164.09C1714.73 1166.75 1716.24 1169.13 1717.75 1170.13C1719.64 1171.37 1721.53 1172.54 1723.42 1172.54C1726.06 1172.54 1728.71 1171.33 1731.35 1171.33C1734.37 1171.33 1737.4 1171.33 1740.42 1171.33C1743.44 1171.33 1746.46 1168.97 1749.49 1166.51C1751.37 1164.97 1753.26 1161.37 1755.15 1158.06C1757.04 1154.75 1758.93 1150.68 1760.82 1145.99C1762.33 1142.25 1763.84 1137.93 1765.35 1132.72C1766.53 1128.68 1767.7 1123.79 1768.87 1118.24C1769.89 1113.42 1770.91 1106.7 1771.93 1101.35C1772.74 1097.14 1773.54 1091.62 1774.34 1089.29C1775.13 1087.01 1775.91 1085.18 1776.69 1084.46C1777.07 1084.11 1777.44 1083.74 1777.82 1083.74C1778.44 1083.74 1779.06 1085.67 1779.67 1086.87C1780.85 1089.16 1782.02 1092.46 1783.19 1095.32C1784.65 1098.88 1786.11 1101.54 1787.57 1106.18C1788.52 1109.21 1789.48 1113.55 1790.43 1118.24C1791.39 1122.93 1792.34 1130.6 1793.29 1135.14C1794.09 1138.94 1794.89 1143.02 1795.69 1144.79C1796.31 1146.15 1796.93 1147.68 1797.54 1147.68C1798.39 1147.68 1799.23 1145.84 1800.08 1144.31C1801.1 1142.44 1802.13 1138.51 1803.15 1135.14C1804.25 1131.54 1805.34 1125.66 1806.44 1123.07C1807.85 1119.72 1809.27 1116.99 1810.69 1115.83C1812.2 1114.6 1813.71 1113.42 1815.22 1113.42C1817.49 1113.42 1819.76 1113.98 1822.03 1114.62C1823.91 1115.16 1825.8 1116.9 1827.69 1118.24C1829.2 1119.32 1830.71 1121.08 1832.23 1121.86C1835.63 1123.62 1839.03 1123.84 1842.43 1125.48C1845.45 1126.95 1848.47 1130.27 1851.49 1132.24C1855.27 1134.7 1859.05 1136.17 1862.83 1138.75C1865.1 1140.31 1867.36 1142.75 1869.63 1144.31C1871.52 1145.6 1873.41 1146.18 1875.3 1147.68C1877.19 1149.18 1879.08 1152.65 1880.96 1154.44C1883.23 1156.59 1885.5 1159.75 1887.76 1159.75C1890.03 1159.75 1892.3 1159.75 1894.57 1159.75C1897.59 1159.75 1900.61 1163.1 1903.63 1163.61C1906.66 1164.12 1909.68 1164.3 1912.7 1164.58C1915.72 1164.85 1918.75 1164.93 1921.77 1165.3C1924.79 1165.67 1927.81 1167.71 1930.84 1167.71C1933.86 1167.71 1936.88 1167.11 1939.9 1166.51C1942.93 1165.9 1945.95 1164.27 1948.97 1162.89C1951.24 1161.84 1953.5 1159.27 1955.77 1159.27C1958.79 1159.27 1961.82 1159.27 1964.84 1159.27C1967.86 1159.27 1970.88 1158.21 1973.91 1157.34C1976.93 1156.46 1979.95 1155.07 1982.97 1153.23C1985.24 1151.85 1987.51 1148.88 1989.77 1147.2C1991.66 1145.8 1993.55 1145.1 1995.44 1143.58C1996.95 1142.36 1998.46 1140.23 1999.98 1138.75C2001.49 1137.28 2003 1136.02 2004.51 1134.65" fill="none" stroke="#808000" stroke-width="6.2" stroke-linejoin="round" stroke-linecap="square" transform="scale(1.06452 1)"/></g>
<g clip-path="url(#clipL)"><path d="M200.35 753.96C202.24 752.91 204.12 750.82 206.01 750.82C207.53 750.82 209.04 753.23 210.55 753.23C217.35 753.23 224.15 751.3 230.95 751.3C232.46 751.3 233.97 755.65 235.48 755.65C238.51 755.65 241.53 752.51 244.55 752.51C251.35 752.51 258.15 753.96 264.95 753.96C266.84 753.96 268.73 750.73 270.62 750.1C273.26 749.21 275.91 748.41 278.55 748.41C280.44 748.41 282.33 752.48 284.22 753.23C285.73 753.83 287.24 754.44 288.75 754.44C289.89 754.44 291.02 750.1 292.16 750.1C294.42 750.1 296.69 753.96 298.96 753.96C302.73 753.96 306.51 753.96 310.29 753.96C311.57 753.96 312.86 751.54 314.14 751.54C315.5 751.54 316.86 755.65 318.22 755.65C319.74 755.65 321.25 752.03 322.76 752.03C325.02 752.03 327.29 754.44 329.56 754.44C331.83 754.44 334.09 752.03 336.36 752.03C339 752.03 341.65 755.65 344.29 755.65C345.8 755.65 347.32 753.72 348.83 753.72C355.63 753.72 362.43 753.72 369.23 753.72C373.38 753.72 377.54 750.82 381.7 750.82C384.34 750.82 386.99 754.92 389.63 754.92C391.9 754.92 394.16 752.03 396.43 752.03C397.94 752.03 399.45 755.16 400.97 755.16C402.85 755.16 404.74 750.82 406.63 750.82C408.9 750.82 411.17 755.16 413.43 755.16C415.32 755.16 417.21 751.3 419.1 751.3C421.37 751.3 423.63 753.96 425.9 753.96C427.79 753.96 429.68 749.61 431.57 749.61C434.21 749.61 436.86 754.44 439.5 754.44C441.77 754.44 444.04 753.68 446.3 752.75C447.97 752.07 449.63 747.68 451.29 747.68C453.41 747.68 455.52 753.23 457.64 753.23C460.28 753.23 462.93 752.97 465.57 752.51C467.46 752.18 469.35 747.85 471.24 746.72C473.13 745.58 475.02 744.31 476.91 744.31C479.17 744.31 481.44 744.31 483.71 744.31C485.97 744.31 488.24 741.91 490.51 738.75C491.64 737.18 492.77 729.21 493.91 727.9C495.04 726.58 496.17 725.48 497.31 725.48C498.82 725.48 500.33 726.78 501.84 727.9C504.49 729.84 507.13 736.01 509.78 738.75C511.66 740.71 513.55 743.58 515.44 743.58C517.33 743.58 519.22 739.07 521.11 737.55C523.38 735.72 525.64 735.29 527.91 733.2C529.8 731.47 531.69 726.66 533.58 724.28C535.09 722.37 536.6 719.45 538.11 719.45C540.15 719.45 542.19 721.86 544.23 721.86C545.59 721.86 546.95 717.18 548.31 715.83C549.6 714.55 550.88 712.93 552.17 712.93C553.53 712.93 554.89 715.33 556.25 717.04C558.51 719.88 560.78 726.25 563.05 729.1C566.45 733.39 569.85 736.26 573.25 738.75C575.89 740.7 578.54 743.58 581.18 743.58C582.92 743.58 584.66 739.96 586.4 739.96C588.81 739.96 591.23 744.79 593.65 744.79C595.54 744.79 597.43 743.55 599.32 742.37C601.21 741.2 603.1 735.86 604.98 735.86C605.89 735.86 606.8 736.06 607.7 736.34C609.06 736.76 610.42 742.99 611.78 744.79C613.3 746.78 614.81 748.1 616.32 749.13C619.34 751.2 622.36 753.72 625.39 753.72C628.41 753.72 631.43 752.03 634.45 752.03C635.96 752.03 637.48 753.8 638.99 753.96C642.01 754.27 645.03 754.28 648.05 754.44C651.23 754.6 654.4 754.66 657.58 754.92C660.98 755.2 664.38 757.34 667.78 757.34C669.67 757.34 671.55 753.23 673.44 753.23C675.33 753.23 677.22 758.06 679.11 758.06C681 758.06 682.89 754.44 684.78 754.44C687.42 754.44 690.07 758.54 692.71 758.54C696.11 758.54 699.51 755.65 702.91 755.65C705.18 755.65 707.45 756.85 709.71 756.85C711.98 756.85 714.25 754.44 716.51 754.44C718.78 754.44 721.05 758.06 723.32 758.06C727.09 758.06 730.87 755.65 734.65 755.65C739.18 755.65 743.72 755.65 748.25 755.65C749.76 755.65 751.27 756.85 752.78 756.85C755.05 756.85 757.32 751.3 759.59 751.3C762.61 751.3 765.63 751.66 768.65 752.03C771.68 752.4 774.7 754.44 777.72 754.44C780.36 754.44 783.01 754.44 785.65 754.44C787.17 754.44 788.68 758.06 790.19 758.06C792.23 758.06 794.27 752.51 796.31 752.51C798.42 752.51 800.54 757.34 802.66 758.06C804.54 758.7 806.43 759.27 808.32 759.27C810.97 759.27 813.61 757.98 816.26 757.34" fill="none" stroke="#000080" stroke-width="6.2" stroke-linejoin="round" stroke-linecap="square" transform="scale(1.06452 1)"/></g>
<g clip-path="url(#clipR)"><path d="M846.86 759.27C847.99 759.27 849.13 759.27 850.26 759.27C851.17 759.27 852.07 766.51 852.98 766.51C853.96 766.51 854.95 750.29 855.93 747.2C856.68 744.83 857.44 742.37 858.19 742.37C858.95 742.37 859.71 745.01 860.46 747.2C861.59 750.49 862.73 764.09 863.86 764.09C865.37 764.09 866.88 756.85 868.4 756.85C869.53 756.85 870.66 759.73 871.8 761.68C873.31 764.28 874.82 771.81 876.33 771.81C878.22 771.81 880.11 762.89 882 762.89C883.89 762.89 885.77 767.71 887.66 767.71C889.93 767.71 892.2 758.06 894.46 758.06C895.98 758.06 897.49 766.02 899 766.02C900.51 766.02 902.02 760.92 903.53 759.27C905.42 757.2 907.31 754.44 909.2 754.44C911.47 754.44 913.73 754.98 916 755.65C917.51 756.09 919.02 758.78 920.53 758.78C925.07 758.78 929.6 758.18 934.13 757.34C936.02 756.99 937.91 754.92 939.8 754.92C943.2 754.92 946.6 756.85 950 756.85C953.03 756.85 956.05 755.36 959.07 754.44C962.47 753.41 965.87 751.36 969.27 750.82C971.54 750.46 973.81 750.58 976.07 750.1C977.21 749.86 978.34 746.67 979.47 746.48C981.36 746.16 983.25 746.27 985.14 745.99C987.41 745.66 989.67 743.37 991.94 741.17C993.83 739.33 995.72 736.28 997.61 732.72C999.5 729.17 1001.39 725.39 1003.27 718.24C1004.41 713.95 1005.54 705.66 1006.67 696.53C1007.58 689.22 1008.49 677.9 1009.4 667.57C1010.38 656.37 1011.36 643.15 1012.34 631.37C1014.42 606.47 1016.5 586.13 1018.57 558.86C1019.94 540.91 1021.31 520.41 1022.67 498.23C1023.58 483.45 1024.5 467.22 1025.41 449.74C1026.18 434.82 1026.96 413.91 1027.74 401.24C1028.72 385.29 1029.7 369.42 1030.68 362.44C1031.49 356.65 1032.3 351.84 1033.11 350.32C1033.96 348.74 1034.81 347.41 1035.66 347.41C1036.5 347.41 1037.35 348.64 1038.2 350.32C1038.86 351.63 1039.52 355.81 1040.18 362.44C1040.71 367.7 1041.23 389.34 1041.75 401.24C1042.53 418.87 1043.3 428.96 1044.08 449.74C1044.54 462.02 1044.99 483.24 1045.45 498.23C1045.98 515.63 1046.51 530.57 1047.05 546.73C1047.58 562.9 1048.11 585.51 1048.64 595.23C1049.63 613.27 1050.61 621.34 1051.6 631.6C1052.59 641.86 1053.58 652.31 1054.56 658.27C1055.22 662.27 1055.89 663.92 1056.55 667.57C1057.91 675.07 1059.27 690.84 1060.63 696.53C1062.29 703.47 1063.95 706.23 1065.61 711C1067.88 717.51 1070.15 725.45 1072.41 730.31C1073.77 733.22 1075.13 737.55 1076.49 737.55C1077.76 737.55 1079.03 737.52 1080.3 737.52C1082.2 737.52 1084.1 739.94 1086 739.94C1087.9 739.94 1089.79 736.55 1091.69 736.55C1093.21 736.55 1094.73 739.94 1096.25 739.94C1098.91 739.94 1101.56 739.78 1104.22 739.46C1105.74 739.27 1107.26 736.55 1108.78 736.55C1110.14 736.55 1111.51 743.09 1112.88 743.09C1114.4 743.09 1115.91 738.24 1117.43 738.24C1120.24 738.24 1123.05 739.36 1125.86 739.94C1128.14 740.41 1130.42 741.4 1132.69 741.4C1136.49 741.4 1140.29 738.97 1144.08 738.97C1146.36 738.97 1148.64 743.82 1150.92 743.82C1155.47 743.82 1160.03 743.82 1164.58 743.82C1167.24 743.82 1169.9 744.79 1172.56 744.79C1173.85 744.79 1175.14 741.88 1176.43 741.88C1177.95 741.88 1179.47 746.25 1180.98 746.25C1183.11 746.25 1185.24 738.24 1187.36 738.24C1188.88 738.24 1190.4 744.31 1191.92 744.31C1194.04 744.31 1196.17 740.67 1198.3 740.67C1200.35 740.67 1202.4 744.31 1204.45 744.31C1207.48 744.31 1210.52 742.37 1213.56 742.37C1215.08 742.37 1216.6 745.52 1218.11 745.52C1219.25 745.52 1220.39 742.92 1221.53 740.67C1222.44 738.87 1223.35 733.18 1224.26 732.18C1225.25 731.11 1226.24 730.24 1227.23 730.24C1227.98 730.24 1228.74 735.51 1229.5 737.03C1230.49 739.01 1231.48 741.4 1232.46 741.4C1233.76 741.4 1235.05 739.05 1236.34 737.03C1237.86 734.65 1239.37 730.25 1240.89 724.91C1242.03 720.9 1243.17 716.71 1244.31 707.93C1245.07 702.08 1245.83 685.5 1246.59 673.99C1247.37 662.08 1248.16 646.78 1248.94 637.61C1249.9 626.4 1250.87 617.84 1251.83 610.94C1252.64 605.06 1253.46 598.28 1254.28 596.39C1255.13 594.43 1255.99 592.75 1256.84 592.75C1257.63 592.75 1258.41 595.39 1259.2 598.82C1259.89 601.81 1260.58 615.86 1261.27 625.49C1262.06 636.57 1262.85 651.91 1263.64 661.86C1264.64 674.4 1265.64 684.35 1266.63 693.39C1267.54 701.65 1268.46 710.98 1269.37 715.21C1270.51 720.49 1271.64 724.62 1272.78 726.12C1274.3 728.12 1275.82 729.16 1277.34 729.76C1280 730.8 1282.65 731.7 1285.31 731.7C1287.59 731.7 1289.87 730.41 1292.15 728.55C1293.51 727.43 1294.88 723.67 1296.25 718.85C1297.31 715.09 1298.37 706.97 1299.43 698.23C1300.44 689.94 1301.45 675.99 1302.46 664.29C1303.28 654.9 1304.09 641.62 1304.9 635.19C1305.71 628.7 1306.53 623.07 1307.35 620.64C1308.03 618.62 1308.71 616.52 1309.39 616.52C1309.9 616.52 1310.4 620.32 1310.9 623.06C1311.54 626.56 1312.18 635.03 1312.82 637.61C1313.47 640.22 1314.11 642.95 1314.76 642.95C1315.51 642.95 1316.27 639.98 1317.02 637.61C1317.87 634.95 1318.72 628.3 1319.57 625.49C1320.54 622.29 1321.51 619.29 1322.47 618.22C1323.37 617.22 1324.27 616.28 1325.17 616.28C1326.02 616.28 1326.86 617.41 1327.71 618.7C1328.67 620.17 1329.64 625.9 1330.6 630.34C1331.79 635.81 1332.98 644.52 1334.16 649.74C1335.72 656.59 1337.28 661.66 1338.84 666.71C1340.36 671.63 1341.88 677.16 1343.4 680.05C1345.14 683.37 1346.89 686.98 1348.64 687.32C1351.07 687.8 1353.5 688.05 1355.93 688.05C1357.44 688.05 1358.96 686.12 1360.48 685.63C1362.61 684.93 1364.73 684.17 1366.86 684.17C1368.53 684.17 1370.2 687.21 1371.87 689.02C1373.39 690.66 1374.91 694.6 1376.43 694.6C1377.57 694.6 1378.7 691.77 1379.84 688.54C1380.98 685.3 1382.12 671.47 1383.26 664.29C1384.4 657.1 1385.54 651.83 1386.68 644.89C1387.66 638.87 1388.65 630.37 1389.64 625.49C1390.55 620.98 1391.46 616.4 1392.37 614.58C1393.28 612.76 1394.19 610.94 1395.1 610.94C1396.09 610.94 1397.08 613.75 1398.07 615.79C1399.2 618.14 1400.34 622.26 1401.48 625.49C1402.62 628.72 1403.76 633.73 1404.9 635.19C1406.42 637.13 1407.94 638.83 1409.46 638.83C1410.97 638.83 1412.49 636.22 1414.01 633.98C1415.53 631.74 1417.05 628.23 1418.57 623.06C1420.09 617.9 1421.6 607.39 1423.12 596.39C1424.26 588.15 1425.4 576.13 1426.54 564.87C1427.68 553.61 1428.82 540.12 1429.96 528.5C1430.94 518.42 1431.93 510.02 1432.92 499.4C1433.59 492.21 1434.25 479.73 1434.92 475.85C1436.29 467.91 1437.66 465.26 1439.02 461.3C1440.69 456.46 1442.36 454.37 1444.03 449.18C1445.02 446.11 1446.01 442.33 1446.99 437.05C1447.75 432.99 1448.51 427.22 1449.27 420.08C1450.03 412.93 1450.79 403.6 1451.55 390.98C1452.09 382.11 1452.62 365.85 1453.16 354.61C1453.78 341.56 1454.4 329.96 1455.02 318.23C1455.68 305.7 1456.35 288.56 1457.01 281.86C1457.84 273.48 1458.67 266.97 1459.5 264.89C1459.89 263.92 1460.28 262.95 1460.66 262.95C1461.04 262.95 1461.42 268.37 1461.8 274.59C1462.16 280.52 1462.53 303.53 1462.89 318.23C1463.28 334.23 1463.68 350.3 1464.07 366.73C1464.45 382.64 1464.83 401.34 1465.22 415.23C1465.6 429.05 1465.98 439.47 1466.36 451.6C1466.74 463.72 1467.12 469.55 1467.5 487.97C1467.66 496.08 1467.83 522.12 1468 528.5C1468.77 557.85 1469.53 564.29 1470.3 576.99C1471.33 593.98 1472.36 608.87 1473.39 618.22C1474.45 627.84 1475.51 635.58 1476.57 640.04C1477.2 642.72 1477.84 646.1 1478.47 646.1C1479.26 646.1 1480.05 642.87 1480.84 640.04C1482.05 635.68 1483.27 626.47 1484.49 615.79C1485.51 606.79 1486.53 593.34 1487.56 576.99C1488.33 564.71 1489.1 559.72 1489.86 528.5C1490 522.85 1490.14 493.6 1490.28 487.97C1491.06 456.68 1491.83 452.94 1492.6 439.48C1493.42 425.29 1494.23 410.73 1495.05 403.1C1495.88 395.33 1496.71 387.56 1497.54 386.13C1498.17 385.04 1498.8 384.19 1499.43 384.19C1500.08 384.19 1500.72 387.76 1501.37 390.98C1502.24 395.31 1503.11 407.96 1503.98 415.23C1504.83 422.34 1505.68 430.91 1506.53 434.63C1507.17 437.43 1507.81 440.69 1508.45 440.69C1509.1 440.69 1509.75 437.57 1510.41 434.63C1511.48 429.78 1512.56 416.58 1513.63 403.1C1514.57 391.31 1515.51 370.11 1516.45 354.61C1517.22 342.02 1517.98 330.76 1518.75 318.23C1519.52 305.56 1520.29 291.31 1521.07 278.9C1521.38 273.87 1521.69 269.12 1522.01 264.4C1522.44 257.79 1522.88 250.76 1523.32 245.1C1523.88 237.82 1524.45 232.01 1525.01 225.8C1525.62 219.14 1526.22 214.47 1526.82 206.5C1527.21 201.4 1527.6 192.7 1527.98 187.2C1528.51 179.74 1529.03 173.29 1529.56 167.9C1530.3 160.3 1531.04 153.14 1531.78 148.6C1532.45 144.49 1533.12 141.17 1533.79 139C1534.18 137.73 1534.58 136 1534.97 136C1535.36 136 1535.76 137.68 1536.15 139C1536.76 141.03 1537.37 144.58 1537.97 148.6C1538.68 153.29 1539.39 160.66 1540.1 167.9C1540.66 173.59 1541.21 179.81 1541.77 187.2C1542.19 192.76 1542.6 199.48 1543.02 206.5C1543.37 212.38 1543.72 219.07 1544.07 225.8C1544.39 231.94 1544.71 238.65 1545.03 245.1C1545.35 251.51 1545.67 256.6 1545.99 264.4C1546.15 268.41 1546.31 270.52 1546.48 278.9C1546.52 281.37 1546.57 292.49 1546.62 293.99C1547.46 319.98 1548.3 321.98 1549.13 327.93C1549.79 332.58 1550.44 337.63 1551.09 337.63C1551.98 337.63 1552.88 333.76 1553.77 330.36C1554.85 326.22 1555.94 315.56 1557.02 308.54C1558.19 301.01 1559.35 290.32 1560.51 286.71C1561.47 283.73 1562.43 280.65 1563.39 280.65C1564.18 280.65 1564.97 283.6 1565.76 286.71C1566.59 289.99 1567.42 300.18 1568.25 308.54C1569.2 318.09 1570.15 331.85 1571.1 342.48C1572.25 355.39 1573.4 365.77 1574.56 378.86C1575.54 390.07 1576.53 401.44 1577.52 415.23C1578.28 425.83 1579.04 439.48 1579.79 451.6C1580.55 463.72 1581.31 476.85 1582.07 487.97C1582.77 498.2 1583.47 506.14 1584.17 516.37C1584.93 527.49 1585.69 540.62 1586.45 552.74C1587.21 564.87 1587.96 578.9 1588.72 589.12C1589.63 601.38 1590.55 610.96 1591.46 620.64C1592.44 631.13 1593.43 642.78 1594.42 649.74C1595.94 660.45 1597.46 667.63 1598.97 673.99C1600.87 681.94 1602.77 688.12 1604.67 693.39C1606.57 698.65 1608.47 703.79 1610.36 706.72C1612.26 709.65 1614.16 713.27 1616.06 713.27C1617.42 713.27 1618.79 710.91 1620.16 707.93C1621.07 705.95 1621.98 697.68 1622.89 693.39C1623.65 689.8 1624.41 684.31 1625.17 683.69C1626.08 682.94 1626.99 682.47 1627.9 682.47C1628.89 682.47 1629.88 686.19 1630.86 688.54C1632.38 692.15 1633.9 699.26 1635.42 701.87C1637.32 705.14 1639.22 708.66 1641.11 708.66C1643.39 708.66 1645.67 708.66 1647.95 708.66C1650.23 708.66 1652.5 701.87 1654.78 701.87C1656.68 701.87 1658.58 702.6 1660.48 702.6C1662.37 702.6 1664.27 701.87 1666.17 701.87C1668.83 701.87 1671.49 702.13 1674.14 702.6C1675.66 702.87 1677.18 705.99 1678.7 705.99C1679.84 705.99 1680.98 702.43 1682.12 698.23C1683.04 694.84 1683.96 683.5 1684.88 673.99C1685.66 665.91 1686.45 653.52 1687.23 644.89C1688.04 635.9 1688.86 626.03 1689.67 620.64C1690.49 615.25 1691.3 609.89 1692.12 608.52C1692.73 607.48 1693.35 606.58 1693.96 606.58C1694.6 606.58 1695.24 610.11 1695.88 613.37C1696.71 617.6 1697.55 628.58 1698.38 637.61C1699.17 646.19 1699.96 658.26 1700.75 666.71C1701.52 674.92 1702.29 683.33 1703.06 688.54C1703.82 693.73 1704.59 698.79 1705.35 700.66C1706.72 703.99 1708.08 703.75 1709.45 706.72C1710.59 709.2 1711.73 716.04 1712.87 720.06C1714.39 725.42 1715.9 733.64 1717.42 734.61C1719.32 735.81 1721.22 736.55 1723.12 736.55C1725.02 736.55 1726.91 736.55 1728.81 736.55C1730.33 736.55 1731.85 732.67 1733.37 732.67C1735.65 732.67 1737.92 735.82 1740.2 735.82C1742.1 735.82 1744 733.02 1745.9 730.97C1747.57 729.17 1749.24 726.87 1750.91 723.7C1752.65 720.37 1754.4 714.54 1756.15 709.15C1757.67 704.46 1759.18 699.63 1760.7 693.39C1761.99 688.08 1763.28 681.36 1764.58 673.99C1765.56 668.35 1766.55 662.58 1767.54 654.59C1768.32 648.27 1769.1 638.36 1769.87 630.34C1770.67 622.19 1771.46 613.14 1772.25 606.09C1773.07 598.79 1773.89 590.12 1774.71 586.69C1775.51 583.38 1776.3 580.88 1777.1 579.9C1777.48 579.43 1777.86 578.93 1778.24 578.93C1778.88 578.93 1779.51 581.9 1780.14 584.27C1781.2 588.21 1782.25 598.06 1783.31 603.67C1784.88 612.04 1786.46 614.99 1788.04 625.49C1788.82 630.71 1789.61 642.36 1790.39 649.74C1791.42 659.48 1792.46 669.2 1793.49 676.41C1794.31 682.11 1795.13 688.08 1795.94 690.96C1796.57 693.18 1797.2 695.81 1797.83 695.81C1798.46 695.81 1799.09 693.14 1799.72 690.96C1800.7 687.59 1801.67 679.74 1802.65 673.99C1803.59 668.42 1804.53 661.53 1805.48 657.01C1806.5 652.13 1807.52 647.28 1808.54 644.89C1810.06 641.33 1811.58 640.49 1813.09 637.61C1814.23 635.46 1815.37 631.06 1816.51 629.85C1817.42 628.89 1818.33 627.91 1819.24 627.91C1820.23 627.91 1821.22 632.18 1822.21 632.76C1823.34 633.44 1824.48 633.35 1825.62 633.98C1827.14 634.82 1828.66 639.73 1830.18 640.52C1831.7 641.32 1833.22 641.13 1834.73 641.98C1835.87 642.61 1837.01 646.65 1838.15 647.8C1839.67 649.32 1841.19 649.53 1842.71 650.95C1844.6 652.72 1846.5 656.61 1848.4 659.44C1849.92 661.7 1851.44 665.93 1852.96 666.23C1854.48 666.53 1855.99 666.39 1857.51 666.71C1858.65 666.95 1859.79 670.42 1860.93 672.77C1861.92 674.82 1862.9 679.76 1863.89 680.05C1865.56 680.54 1867.23 680.35 1868.9 680.78C1870.8 681.26 1872.7 683.98 1874.6 687.32C1875.74 689.33 1876.87 696.37 1878.01 698.23C1879.53 700.72 1881.05 701.05 1882.57 703.08C1883.94 704.91 1885.3 709.3 1886.67 710.36C1888.72 711.95 1890.77 713.27 1892.82 713.27C1894.34 713.27 1895.86 707.16 1897.38 706.72C1898.89 706.29 1900.41 705.99 1901.93 705.99C1903.22 705.99 1904.51 714 1905.8 714C1907.17 714 1908.54 708.42 1909.9 708.42C1911.42 708.42 1912.94 711.51 1914.46 712.3C1915.98 713.09 1917.5 713.19 1919.02 714C1920.91 715 1922.81 719.57 1924.71 719.57C1926.76 719.57 1928.81 716.86 1930.86 715.21C1932.61 713.8 1934.35 710.36 1936.1 710.36C1937.62 710.36 1939.14 714 1940.65 714C1942.93 714 1945.21 705.02 1947.49 705.02C1950.15 705.02 1952.8 710.84 1955.46 710.84C1956.98 710.84 1958.5 701.56 1960.02 700.66C1961.16 699.99 1962.29 699.45 1963.43 699.45C1965.33 699.45 1967.23 707.93 1969.13 707.93C1971.41 707.93 1973.68 707.93 1975.96 707.93C1976.72 707.93 1977.48 699.58 1978.24 698.23C1979.38 696.21 1980.52 695.5 1981.66 694.6C1982.95 693.57 1984.24 693.54 1985.53 692.17C1986.52 691.13 1987.5 687.68 1988.49 683.69C1989.02 681.54 1989.55 675.15 1990.08 673.99C1990.84 672.32 1991.6 671.08 1992.36 671.08C1993.35 671.08 1994.34 675.93 1995.32 675.93C1996.84 675.93 1998.36 674.06 1999.88 672.77C2001.02 671.81 2002.16 671.46 2003.3 669.14C2003.9 667.9 2004.51 659.44 2005.12 654.59" fill="none" stroke="#000080" stroke-width="6.2" stroke-linejoin="round" stroke-linecap="square" transform="scale(1.06452 1)"/></g>
<defs><filter id="bw" x="-5%" y="-5%" width="110%" height="110%" color-interpolation-filters="sRGB"><feComponentTransfer><feFuncA type="discrete" tableValues="0 1"/></feComponentTransfer></filter></defs>
<g filter="url(#bw)">
<text x="138.64" y="1716" font-size="69.7" textLength="147.32" lengthAdjust="spacingAndGlyphs">3400</text>
<text x="494.64" y="1716" font-size="69.7" textLength="147.32" lengthAdjust="spacingAndGlyphs">2950</text>
<text x="987.94" y="1716" font-size="69.7" textLength="147.32" lengthAdjust="spacingAndGlyphs">1800</text>
<text x="1345.84" y="1716" font-size="69.7" textLength="147.32" lengthAdjust="spacingAndGlyphs">1350</text>
<text x="1722.16" y="1716" font-size="69.7" textLength="110.49" lengthAdjust="spacingAndGlyphs">900</text>
<text x="2080.06" y="1716" font-size="69.7" textLength="110.49" lengthAdjust="spacingAndGlyphs">450</text>
<path d="M247.3 144.9 L400 144.9" stroke="#000080" stroke-width="6.2" fill="none"/>
<path d="M247.3 225.9 L400 225.9" stroke="#808000" stroke-width="6.2" fill="none"/>
<path d="M247.3 306.9 L400 306.9" stroke="#800000" stroke-width="6.2" fill="none"/>
<text y="167.9" font-size="66.7"><tspan x="414.46" font-size="69.63" textLength="285.69" lengthAdjust="spacingAndGlyphs">PLA/SCO</tspan> <tspan x="719.1" textLength="306.27" lengthAdjust="spacingAndGlyphs">compound</tspan> <tspan x="1042.91" textLength="102.4" lengthAdjust="spacingAndGlyphs">film</tspan></text>
<text y="247.7" font-size="66.7"><tspan x="414.45" font-size="69.63" textLength="124.86" lengthAdjust="spacingAndGlyphs">PLA</tspan> <tspan x="558.01" textLength="102.4" lengthAdjust="spacingAndGlyphs">film</tspan></text>
<text y="328.9" font-size="66.7"><tspan x="415.13" font-size="69.63" textLength="142.9" lengthAdjust="spacingAndGlyphs">SCO</tspan> <tspan x="576.19" textLength="306.47" lengthAdjust="spacingAndGlyphs">compound</tspan></text>
<text y="1850" font-size="80"><tspan x="795.4" textLength="518.78" lengthAdjust="spacingAndGlyphs"><tspan font-size="84.5">W</tspan>avenumbers</tspan> <tspan x="1336.75" textLength="134.69" lengthAdjust="spacingAndGlyphs">(cm</tspan><tspan x="1465.35" y="1809" font-size="51" textLength="31.54" lengthAdjust="spacingAndGlyphs">−</tspan><tspan x="1498.31" y="1811" font-size="51">1</tspan><tspan font-size="80" x="1527.86" y="1850" textLength="23.32" lengthAdjust="spacingAndGlyphs">)</tspan></text>
<text transform="translate(87.9 0) rotate(-90)" y="0" font-size="80"><tspan x="-1115.75" textLength="290.33" lengthAdjust="spacingAndGlyphs"><tspan font-size="84.5">R</tspan>elative</tspan> <tspan x="-804.61" textLength="297.71" lengthAdjust="spacingAndGlyphs"><tspan font-size="84.5">I</tspan>ntensity</tspan></text>
</g>
</svg></body></html>
